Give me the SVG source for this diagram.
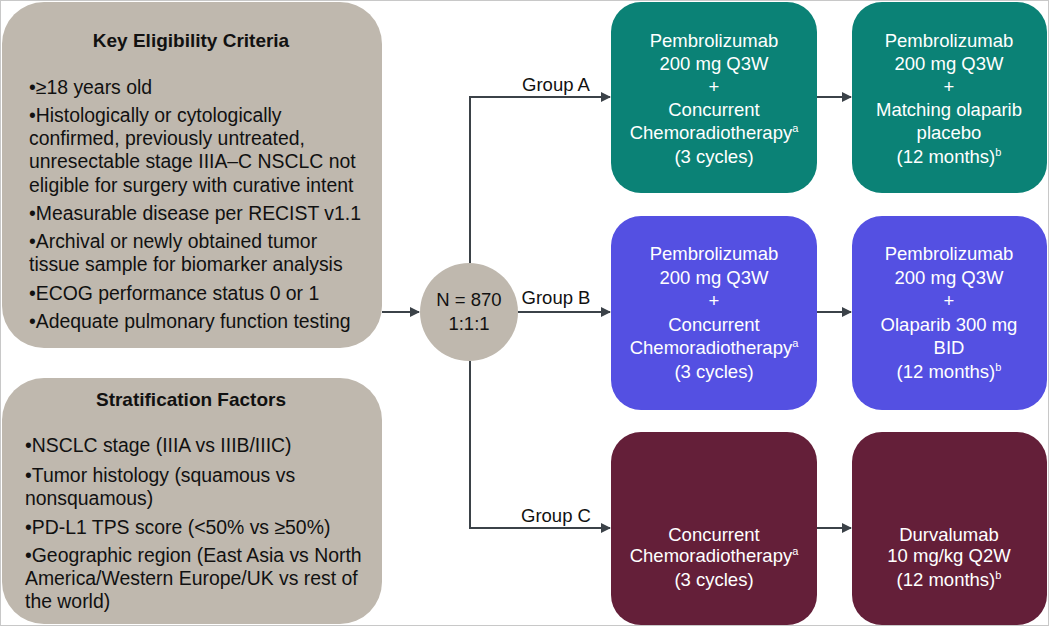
<svg xmlns="http://www.w3.org/2000/svg" width="1050" height="627" viewBox="0 0 1050 627">
<defs>
<style>
text{font-family:"Liberation Sans",Arial,sans-serif;}
.w{fill:#fff;font-size:18.5px;text-anchor:middle;}
.k{fill:#111;font-size:19.4px;}
.h{fill:#111;font-size:19px;font-weight:bold;text-anchor:middle;}
.g{fill:#111;font-size:18.5px;text-anchor:middle;}
.gray{fill:#bfb8ae;}
.teal{fill:#0b8276;}
.blue{fill:#5450e2;}
.mar{fill:#641f39;}
.c{stroke:#3b4248;stroke-width:2;fill:none;}
.sup{font-size:11px;}
</style>
<marker id="ar" markerWidth="10" markerHeight="10" refX="9" refY="5" orient="auto" markerUnits="userSpaceOnUse">
<path d="M0,0 L10,5 L0,10 z" fill="#3b4248"/>
</marker>
</defs>
<rect x="0" y="0" width="1050" height="627" fill="#fff"/>
<rect x="0.5" y="0.5" width="1048" height="625" fill="none" stroke="#c8c8c8" stroke-width="1"/>

<g id="eligibility">
<rect class="gray" x="2" y="2" width="380" height="346" rx="42"/>
<text class="h" x="191" y="47">Key Eligibility Criteria</text>
<text class="k" x="29" y="94">•≥18 years old</text>
<text class="k" x="29" y="122">•Histologically or cytologically</text>
<text class="k" x="29" y="145">confirmed, previously untreated,</text>
<text class="k" x="29" y="168">unresectable stage IIIA–C NSCLC not</text>
<text class="k" x="29" y="192">eligible for surgery with curative intent</text>
<text class="k" x="29" y="220">•Measurable disease per RECIST v1.1</text>
<text class="k" x="29" y="248">•Archival or newly obtained tumor</text>
<text class="k" x="29" y="271">tissue sample for biomarker analysis</text>
<text class="k" x="29" y="300">•ECOG performance status 0 or 1</text>
<text class="k" x="29" y="328">•Adequate pulmonary function testing</text>
</g>

<g id="stratification">
<rect class="gray" x="2" y="378" width="380" height="246" rx="42"/>
<text class="h" x="191" y="406">Stratification Factors</text>
<text class="k" x="25" y="452">•NSCLC stage (IIIA vs IIIB/IIIC)</text>
<text class="k" x="25" y="482">•Tumor histology (squamous vs</text>
<text class="k" x="25" y="505">nonsquamous)</text>
<text class="k" x="25" y="534">•PD-L1 TPS score (&lt;50% vs ≥50%)</text>
<text class="k" x="25" y="562">•Geographic region (East Asia vs North</text>
<text class="k" x="25" y="585">America/Western Europe/UK vs rest of</text>
<text class="k" x="25" y="608">the world)</text>
</g>

<g id="randomization">
<ellipse class="gray" cx="469" cy="312" rx="49" ry="49"/>
<text class="g" x="469" y="306">N = 870</text>
<text class="g" x="469" y="330">1:1:1</text>
</g>

<g id="connectors">
<line class="c" x1="382" y1="312" x2="419" y2="312" marker-end="url(#ar)"/>
<polyline class="c" points="470,263 470,97 610,97" marker-end="url(#ar)"/>
<line class="c" x1="518" y1="312" x2="610" y2="312" marker-end="url(#ar)"/>
<polyline class="c" points="470,361 470,528 610,528" marker-end="url(#ar)"/>
<line class="c" x1="817" y1="97" x2="851" y2="97" marker-end="url(#ar)"/>
<line class="c" x1="817" y1="312" x2="851" y2="312" marker-end="url(#ar)"/>
<line class="c" x1="817" y1="528" x2="851" y2="528" marker-end="url(#ar)"/>
<text class="g" x="556" y="91">Group A</text>
<text class="g" x="556" y="304">Group B</text>
<text class="g" x="556" y="522">Group C</text>
</g>

<g id="groupA-induction">
<rect class="teal" x="611" y="2" width="206" height="191" rx="30"/>
<text class="w" x="714" y="47">Pembrolizumab</text>
<text class="w" x="714" y="70">200 mg Q3W</text>
<text class="w" x="714" y="93">+</text>
<text class="w" x="714" y="116">Concurrent</text>
<text class="w" x="714" y="139">Chemoradiotherapy<tspan class="sup" dy="-7">a</tspan></text>
<text class="w" x="714" y="163">(3 cycles)</text>
</g>
<g id="groupA-maintenance">
<rect class="teal" x="852" y="2" width="195" height="191" rx="30"/>
<text class="w" x="949" y="47">Pembrolizumab</text>
<text class="w" x="949" y="70">200 mg Q3W</text>
<text class="w" x="949" y="93">+</text>
<text class="w" x="949" y="116">Matching olaparib</text>
<text class="w" x="949" y="139">placebo</text>
<text class="w" x="949" y="163">(12 months)<tspan class="sup" dy="-7">b</tspan></text>
</g>

<g id="groupB-induction">
<rect class="blue" x="611" y="216" width="206" height="194" rx="30"/>
<text class="w" x="714" y="260">Pembrolizumab</text>
<text class="w" x="714" y="284">200 mg Q3W</text>
<text class="w" x="714" y="307">+</text>
<text class="w" x="714" y="331">Concurrent</text>
<text class="w" x="714" y="354">Chemoradiotherapy<tspan class="sup" dy="-7">a</tspan></text>
<text class="w" x="714" y="378">(3 cycles)</text>
</g>
<g id="groupB-maintenance">
<rect class="blue" x="852" y="216" width="195" height="194" rx="30"/>
<text class="w" x="949" y="260">Pembrolizumab</text>
<text class="w" x="949" y="284">200 mg Q3W</text>
<text class="w" x="949" y="307">+</text>
<text class="w" x="949" y="331">Olaparib 300 mg</text>
<text class="w" x="949" y="354">BID</text>
<text class="w" x="949" y="378">(12 months)<tspan class="sup" dy="-7">b</tspan></text>
</g>

<g id="groupC-induction">
<rect class="mar" x="611" y="432" width="206" height="193" rx="30"/>
<text class="w" x="714" y="541">Concurrent</text>
<text class="w" x="714" y="562">Chemoradiotherapy<tspan class="sup" dy="-7">a</tspan></text>
<text class="w" x="714" y="586">(3 cycles)</text>
</g>
<g id="groupC-maintenance">
<rect class="mar" x="852" y="432" width="195" height="193" rx="30"/>
<text class="w" x="949" y="541">Durvalumab</text>
<text class="w" x="949" y="562">10 mg/kg Q2W</text>
<text class="w" x="949" y="586">(12 months)<tspan class="sup" dy="-7">b</tspan></text>
</g>
</svg>
